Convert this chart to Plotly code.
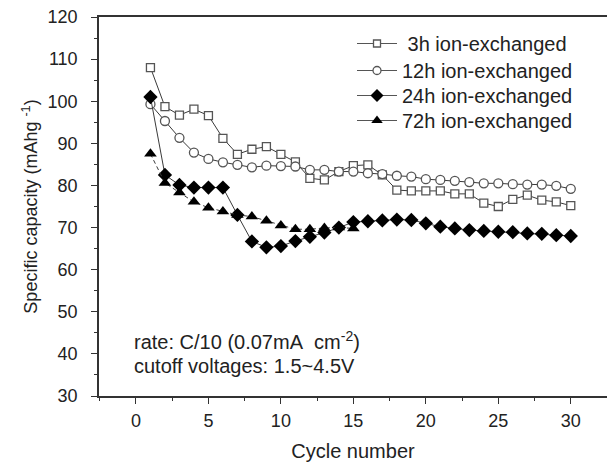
import plotly.graph_objects as go

cycles = list(range(1, 31))
cap_3h = [108.0, 98.7, 96.7, 98.1, 96.6, 91.2, 87.4, 88.6, 89.2, 87.4,
          85.6, 81.7, 81.3, 83.3, 84.7, 84.9, 82.5, 78.9, 78.7, 78.7,
          78.7, 78.0, 78.0, 75.8, 75.0, 76.7, 77.7, 76.5, 76.1, 75.2]
cap_12h = [99.3, 95.3, 91.3, 87.8, 86.3, 85.5, 84.9, 84.3, 84.7, 84.6,
           84.5, 83.7, 83.7, 83.3, 83.3, 82.9, 82.7, 82.3, 82.1, 81.5,
           81.3, 81.1, 80.8, 80.5, 80.5, 80.3, 80.2, 80.2, 79.9, 79.2]
cap_24h = [101.0, 82.5, 80.1, 79.5, 79.5, 79.5, 73.0, 66.7, 65.3, 65.6,
           66.8, 67.8, 68.8, 70.0, 71.3, 71.5, 71.7, 71.9, 71.8, 71.0,
           70.2, 69.8, 69.4, 69.2, 69.0, 68.9, 68.6, 68.5, 68.2, 68.0]
cycles_72h = list(range(1, 16))
cap_72h = [87.5, 80.6, 78.3, 76.1, 74.7, 73.8, 73.0, 72.6, 71.6, 70.5,
           69.6, 69.6, 69.9, 70.0, 69.8]

names = ["\u00a03h ion-exchanged", "12h ion-exchanged",
         "24h ion-exchanged", "72h ion-exchanged"]

x_ticks = [0, 5, 10, 15, 20, 25, 30]
y_ticks = [30, 40, 50, 60, 70, 80, 90, 100, 110, 120]

LINE = "#3a3a3a"
EDGE = "#555555"
FONT = "Liberation Sans, Arial, sans-serif"
TXT = "#222222"

series = [
    dict(x=cycles, y=cap_3h, symbol="square", size=8, lsize=7, fill="white",
         edge=EDGE, ew=1.3, dash="solid"),
    dict(x=cycles, y=cap_12h, symbol="circle", size=9, lsize=8, fill="white",
         edge=EDGE, ew=1.3, dash="solid"),
    dict(x=cycles, y=cap_24h, symbol="diamond", size=11, lsize=10, fill="black",
         edge="black", ew=0, dash="solid"),
    dict(x=cycles_72h, y=cap_72h, symbol="triangle-up", size=11, lsize=10,
         fill="black", edge="black", ew=0, dash="4px,3px"),
]

fig = go.Figure()
legend_keys = ["legend", "legend2", "legend3", "legend4"]
for s, name in zip(series, names):
    fig.add_trace(go.Scatter(
        x=s["x"], y=s["y"], name=name, mode="lines+markers", showlegend=False,
        line=dict(color=LINE, width=1, dash=s["dash"]),
        marker=dict(symbol=s["symbol"], size=s["size"], color=s["fill"],
                    line=dict(color=s["edge"], width=s["ew"]))))
for s, name, lk in zip(series, names, legend_keys):
    # legend entry (no data drawn)
    fig.add_trace(go.Scatter(
        x=[None], y=[None], name=name, mode="lines+markers", legend=lk,
        line=dict(color="#555555", width=1.2),
        marker=dict(symbol=s["symbol"], size=s["lsize"], color=s["fill"],
                    line=dict(color=s["edge"], width=s["ew"]))))

PLOT_L, PLOT_T, PLOT_W, PLOT_H = 99, 17, 508, 379
leg_centers = [45, 72, 97, 122]
leg_common = dict(xanchor="left", yanchor="top", bgcolor="rgba(0,0,0,0)",
                  font=dict(size=20, family=FONT, color=TXT), itemwidth=40)
legends = {}
for lk, c in zip(legend_keys, leg_centers):
    top = c - 21
    legends[lk] = dict(x=(352 - PLOT_L) / PLOT_W, y=1 - (top - PLOT_T) / PLOT_H,
                       **leg_common)

fig.update_layout(
    width=607, height=465,
    margin=dict(l=PLOT_L, r=0, t=PLOT_T, b=69),
    paper_bgcolor="white", plot_bgcolor="white",
    font=dict(family=FONT, color=TXT, size=18),
    showlegend=True,
    **legends,
    xaxis=dict(
        range=[-2.55, 32.5], tickvals=x_ticks, ticktext=[str(v) for v in x_ticks],
        showgrid=False, zeroline=False, showline=True, linecolor="#333333",
        linewidth=1.5, mirror=True, ticks="outside", ticklen=6, tickwidth=1.3,
        tickcolor="#333333", ticklabelstandoff=2,
        tickfont=dict(size=18, family=FONT, color=TXT),
        minor=dict(dtick=2.5, tick0=0, ticks="outside", ticklen=3,
                   tickwidth=1.2, tickcolor="#333333", showgrid=False),
        title=dict(text="Cycle number", font=dict(size=20, family=FONT, color=TXT),
                   standoff=14),
    ),
    yaxis=dict(
        range=[30, 120], tickvals=y_ticks, ticktext=[str(v) for v in y_ticks],
        showgrid=False, zeroline=False, showline=True, linecolor="#333333",
        linewidth=1.5, mirror=False, ticks="outside", ticklen=6, tickwidth=1.3,
        tickcolor="#333333", ticklabelstandoff=10,
        tickfont=dict(size=18, family=FONT, color=TXT),
        minor=dict(dtick=5, tick0=0, ticks="outside", ticklen=3,
                   tickwidth=1.2, tickcolor="#333333", showgrid=False),
        title=dict(text="Specific capacity (mAhg <sup>-1</sup>)",
                   font=dict(size=18, family=FONT, color=TXT), standoff=5),
    ),
    annotations=[
        dict(x=-0.28, y=43.1, xref="x", yref="y", xanchor="left", yanchor="middle",
             text="rate: C/10 (0.07mA&nbsp; cm<sup>-2</sup>)", showarrow=False,
             font=dict(size=20, family=FONT, color=TXT)),
        dict(x=-0.28, y=37.1, xref="x", yref="y", xanchor="left", yanchor="middle",
             text="cutoff voltages: 1.5~4.5V", showarrow=False,
             font=dict(size=20, family=FONT, color=TXT)),
    ],
)

fig.write_html("out.html")
